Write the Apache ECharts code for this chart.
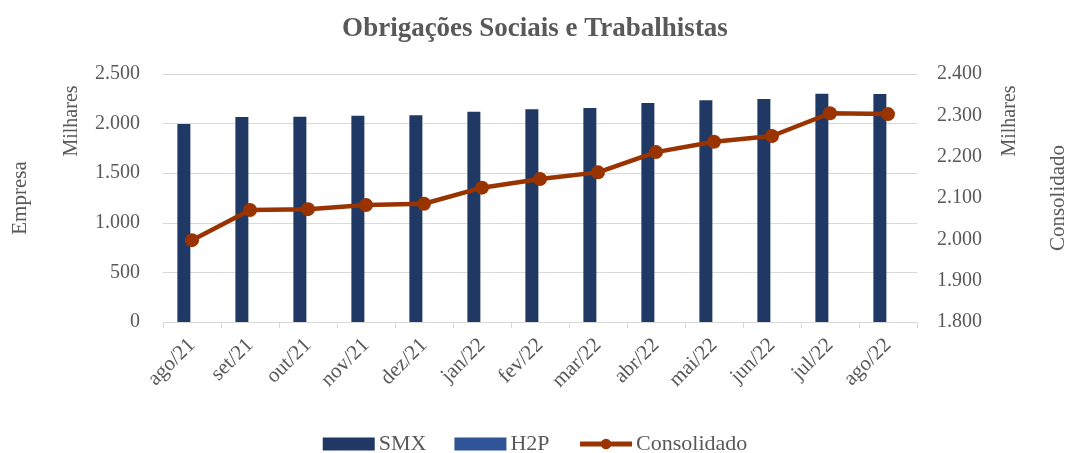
<!DOCTYPE html>
<html><head><meta charset="utf-8">
<script src="https://cdn.jsdelivr.net/npm/echarts@6/dist/echarts.min.js"></script>
<style>html,body{margin:0;padding:0;background:#fff}#c{width:1070px;height:453px}</style>
</head><body><div id="c"></div>
<script>
const categories = ['ago/21','set/21','out/21','nov/21','dez/21','jan/22','fev/22','mar/22','abr/22','mai/22','jun/22','jul/22','ago/22'];
const smx = [1995, 2066, 2068, 2080, 2083, 2120, 2144, 2157, 2208, 2235, 2248, 2302, 2298];
const h2p = [0, 0, 0, 0, 0, 0, 0, 0, 0, 0, 0, 0, 0];
const consolidado = [1998, 2071, 2073, 2083, 2086, 2125, 2146, 2162, 2211, 2236, 2250, 2305, 2303];
const leftTicks = {min: 0, max: 2500, interval: 500};
const rightTicks = {min: 1800, max: 2400, interval: 100};

const FONT = '"Liberation Serif", "DejaVu Serif", serif';
const GRAY = '#595959';
const fmt = v => v.toLocaleString('de-DE');

const chart = echarts.init(document.getElementById('c'));
chart.setOption({
  animation: false,
  textStyle: {fontFamily: FONT, color: GRAY},
  title: {
    text: 'Obrigações Sociais e Trabalhistas',
    left: 'center', top: 11,
    textStyle: {fontFamily: FONT, fontSize: 27, fontWeight: 'bold', color: GRAY}
  },
  legend: {
    top: 428, left: 'center',
    itemWidth: 52, itemHeight: 13, itemGap: 28,
    textStyle: {fontFamily: FONT, fontSize: 22, color: GRAY, padding: [0, 0, 0, -1]},
    data: [
      {name: 'SMX', icon: 'rect'},
      {name: 'H2P', icon: 'rect'},
      {name: 'Consolidado', lineStyle: {width: 5}}
    ]
  },
  grid: {left: 163, right: 153, top: 74, bottom: 131, outerBoundsMode: 'none', containLabel: false},
  xAxis: {
    type: 'category', data: categories,
    axisLine: {lineStyle: {color: '#d9d9d9', width: 1}},
    axisTick: {show: true, alignWithLabel: false, length: 6, lineStyle: {color: '#d9d9d9'}},
    axisLabel: {rotate: 45, margin: 20, fontSize: 21, color: GRAY, fontFamily: FONT}
  },
  yAxis: [
    {
      type: 'value', ...leftTicks, position: 'left',
      name: 'Empresa', nameLocation: 'middle', nameGap: 132, nameRotate: 90,
      nameTextStyle: {fontSize: 21, color: GRAY, fontFamily: FONT},
      axisLine: {show: false}, axisTick: {show: false},
      splitLine: {lineStyle: {color: '#d9d9d9', width: 1}},
      axisLabel: {margin: 23, fontSize: 20, color: GRAY, fontFamily: FONT, formatter: fmt}
    },
    {
      type: 'value', ...rightTicks, position: 'right',
      name: 'Consolidado', nameLocation: 'middle', nameGap: 131, nameRotate: 90,
      nameTextStyle: {fontSize: 21, color: GRAY, fontFamily: FONT},
      axisLine: {show: false}, axisTick: {show: false},
      splitLine: {show: false},
      axisLabel: {margin: 20, fontSize: 20, color: GRAY, fontFamily: FONT, formatter: fmt}
    }
  ],
  graphic: [
    {type: 'text', x: 72, y: 121, rotation: Math.PI/2, style: {text: 'Milhares', font: '20px ' + FONT, fill: GRAY, align: 'center', verticalAlign: 'middle'}},
    {type: 'text', x: 1010, y: 121, rotation: Math.PI/2, style: {text: 'Milhares', font: '20px ' + FONT, fill: GRAY, align: 'center', verticalAlign: 'middle'}}
  ],
  series: [
    {name: 'SMX', type: 'bar', data: smx, yAxisIndex: 0, barWidth: 13, barGap: '25%', itemStyle: {color: '#203864'}},
    {name: 'H2P', type: 'bar', data: h2p, yAxisIndex: 0, barWidth: 13, itemStyle: {color: '#2F5597'}},
    {name: 'Consolidado', type: 'line', data: consolidado, yAxisIndex: 1,
     symbol: 'circle', symbolSize: 14,
     lineStyle: {color: '#993300', width: 4.5}, itemStyle: {color: '#993300'}}
  ]
});
</script></body></html>
